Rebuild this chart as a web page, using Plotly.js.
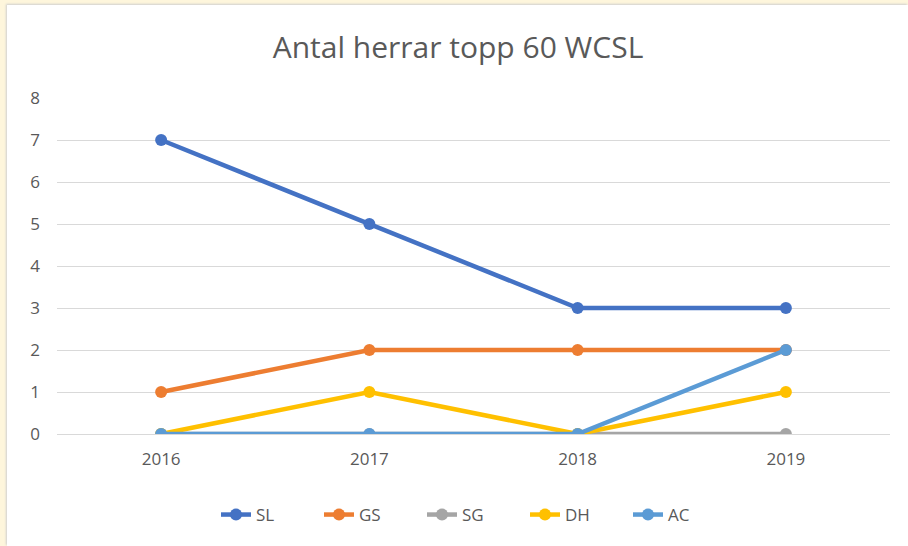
<!DOCTYPE html>
<html>
<head>
<meta charset="utf-8">
<script src="https://cdn.plot.ly/plotly-3.0.1.min.js"></script>
<style>
html,body{margin:0;padding:0;background:#fef6dc;width:908px;height:546px;overflow:hidden;}
#frame{position:absolute;left:7px;top:5px;width:901px;height:541px;background:#fff;box-shadow:-1px -1px 2px #cfcfcf;}
#chart{position:absolute;left:1px;top:1px;width:900px;height:540px;}
</style>
</head>
<body>
<div id="frame"><div id="chart"></div></div>
<script>
const years = ['2016','2017','2018','2019'];
const seriesNames = ['SL','GS','SG','DH','AC'];
const SL = [7,5,3,3];
const GS = [1,2,2,2];
const SG = [0,0,0,0];
const DH = [0,1,0,1];
const AC = [0,0,0,2];
const yTicks = [0,1,2,3,4,5,6,7,8];
const colors = ['#4472C4','#ED7D31','#A5A5A5','#FFC000','#5B9BD5'];
const values = [SL,GS,SG,DH,AC];

const traces = values.map((v,i)=>({
  x: years, y: v, name: seriesNames[i], type:'scatter', mode:'lines+markers',
  line:{color:colors[i], width:4.5}, marker:{color:colors[i], size:12}
}));

const FONT = '"Open Sans", "Liberation Sans", sans-serif';
const layout = {
  width:900, height:540,
  paper_bgcolor:'#fff', plot_bgcolor:'#fff',
  margin:{l:49,r:18,t:92,b:112},
  font:{family:FONT, color:'#595959', size:17},
  title:{text:'Antal herrar topp 60 WCSL', font:{size:30, color:'#595959', family:FONT}, x:0.5, xanchor:'center', y:1-(41/540), yref:'container', yanchor:'middle'},
  xaxis:{type:'category', range:[-0.5,3.5], showgrid:false, zeroline:false, showline:true, linecolor:'#d9d9d9', linewidth:1, ticks:'', ticklabelstandoff:10, tickfont:{size:17,color:'#595959', family:FONT}, fixedrange:true},
  yaxis:{range:[0,8], tickvals:yTicks, showgrid:true, gridcolor:'#d9d9d9', gridwidth:1, zeroline:false, showline:false, ticks:'', ticklabelstandoff:16, tickfont:{size:17,color:'#595959', family:FONT}, fixedrange:true},
  showlegend:true,
  legend:{orientation:'h', x:0.5, xanchor:'center', y:-(515-434)/336, yanchor:'middle', font:{size:17,color:'#595959', family:FONT}, traceorder:'normal', entrywidth:58, entrywidthmode:'pixels'},
};
Plotly.newPlot('chart', traces, layout, {staticPlot:true});
</script>
</body>
</html>
